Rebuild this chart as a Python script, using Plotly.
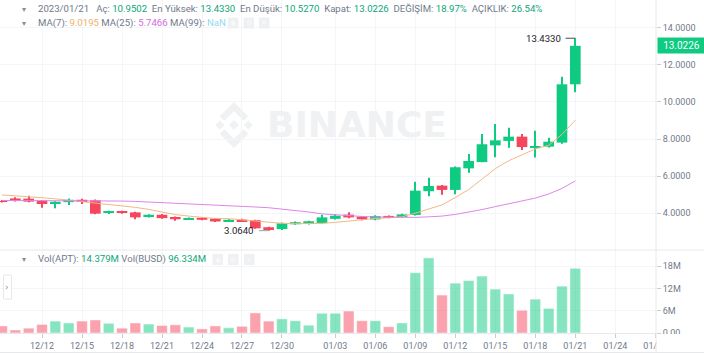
import plotly.graph_objects as go
import pandas as pd

W, H = 704, 353

# ---------------- data ----------------
dates = list(pd.date_range("2022-12-09", "2023-01-21", freq="D"))

open_ = [4.66, 4.80, 4.79, 4.68, 4.50, 4.60, 4.73, 4.70, 4.02, 4.10,
         4.05, 3.80, 3.92, 3.80, 3.69, 3.76, 3.71, 3.56, 3.66, 3.63,
         3.25, 3.15, 3.41, 3.43, 3.47, 3.70, 3.93, 3.82, 3.67, 3.86,
         3.80, 3.91, 5.19, 5.49, 5.26, 6.42, 6.76, 7.66, 7.90, 8.13,
         7.56, 7.59, 7.81, 10.9502]
high = [4.72, 4.86, 4.95, 4.72, 4.65, 4.80, 4.78, 4.74, 4.14, 4.14,
        4.08, 3.95, 3.96, 3.83, 3.78, 3.79, 3.73, 3.68, 3.70, 3.65,
        3.28, 3.50, 3.56, 3.60, 3.92, 3.95, 4.05, 3.85, 3.90, 3.88,
        3.98, 5.70, 5.92, 5.52, 6.52, 7.20, 8.27, 8.81, 8.61, 8.27,
        8.45, 8.07, 11.36, 13.4330]
low = [4.58, 4.64, 4.60, 4.30, 4.27, 4.45, 4.50, 3.95, 3.96, 3.98,
       3.68, 3.78, 3.70, 3.60, 3.66, 3.62, 3.53, 3.54, 3.53, 3.17,
       3.0640, 3.10, 3.38, 3.40, 3.45, 3.66, 3.74, 3.63, 3.62, 3.73,
       3.76, 3.88, 4.92, 5.00, 5.02, 6.19, 6.75, 7.02, 7.53, 7.41,
       7.00, 7.55, 7.75, 10.5270]
close = [4.62, 4.68, 4.63, 4.50, 4.62, 4.73, 4.63, 3.98, 4.10, 4.02,
         3.78, 3.92, 3.74, 3.68, 3.74, 3.65, 3.56, 3.65, 3.56, 3.19,
         3.15, 3.46, 3.52, 3.57, 3.78, 3.87, 3.78, 3.68, 3.85, 3.76,
         3.94, 5.22, 5.47, 5.26, 6.48, 6.82, 7.72, 7.93, 8.13, 7.57,
         7.62, 7.86, 10.95, 13.0226]
volume_m = [1.9, 0.8, 1.3, 2.3, 3.2, 2.7, 3.2, 3.5, 2.6, 1.3,
            2.7, 2.4, 2.0, 2.2, 1.6, 1.1, 1.9, 1.4, 1.8, 5.4,
            3.2, 3.8, 3.3, 2.1, 5.3, 5.3, 5.9, 3.3, 3.3, 1.7,
            2.7, 16.2, 20.2, 10.2, 13.4, 14.1, 15.3, 11.8, 10.5, 6.1,
            9.1, 6.6, 12.6, 17.4]
ma7 = [4.99, 4.95, 4.90, 4.84, 4.78, 4.71, 4.63, 4.56, 4.49, 4.42,
       4.32, 4.21, 4.07, 3.93, 3.85, 3.79, 3.72, 3.71, 3.65, 3.58,
       3.50, 3.46, 3.44, 3.44, 3.46, 3.51, 3.59, 3.67, 3.72, 3.76,
       3.81, 4.01, 4.24, 4.45, 4.85, 5.28, 5.84, 6.41, 6.83, 7.13,
       7.47, 7.66, 8.25, 9.0195]
ma25 = [4.69, 4.69, 4.69, 4.69, 4.69, 4.68, 4.68, 4.67, 4.67, 4.66,
        4.64, 4.61, 4.59, 4.56, 4.52, 4.48, 4.45, 4.41, 4.38, 4.34,
        4.30, 4.23, 4.15, 4.07, 3.97, 3.91, 3.87, 3.83, 3.80, 3.78,
        3.77, 3.78, 3.81, 3.85, 3.94, 4.05, 4.20, 4.36, 4.50, 4.66,
        4.82, 5.04, 5.34, 5.7466]

tick_dates = ["2022-12-12", "2022-12-15", "2022-12-18", "2022-12-21", "2022-12-24",
              "2022-12-27", "2022-12-30", "2023-01-03", "2023-01-06", "2023-01-09",
              "2023-01-12", "2023-01-15", "2023-01-18", "2023-01-21", "2023-01-24",
              "2023-01-27"]
tick_labels = ["12/12", "12/15", "12/18", "12/21", "12/24", "12/27", "12/30", "01/03",
               "01/06", "01/09", "01/12", "01/15", "01/18", "01/21", "01/24", "01/27"]
price_ticks = [4, 6, 8, 10, 12, 14]
vol_ticks = [0, 6, 12, 18]
vol_tick_labels = ["0.00", "6M", "12M", "18M"]

# ---------------- style ----------------
GREEN = "#0ecb81"
RED = "#f6465d"
GREEN_V = "rgba(14,203,129,0.5)"
RED_V = "rgba(246,70,93,0.5)"
ORANGE = "#f2b984"
PINK = "#de86e8"
GRAY = "#707a8a"
TXT_GREEN = "#0ca678"
GRID = "#f4f5f7"
LINEC = "#e6e8ea"
FONT = "Roboto"

PLOT_W = 656
PX_PER_DAY = 13.333
PRICE_BOTTOM = 250
VOL_BOTTOM = 333
DAY_MS = 86400000


def px(x):
    return x / W


def py(y):
    return 1 - y / H


x_start = dates[0] - pd.Timedelta(days=2.0 / PX_PER_DAY)
x_end = x_start + pd.Timedelta(days=PLOT_W / PX_PER_DAY)

up = [c >= o for o, c in zip(open_, close)]
candle_colors = [GREEN if u else RED for u in up]
vol_colors = [GREEN_V if u else RED_V for u in up]

fig = go.Figure()

# wicks
fig.add_trace(go.Bar(
    x=dates, base=low, y=[h - l for h, l in zip(high, low)],
    width=1.0 / PX_PER_DAY * DAY_MS, xaxis="x", yaxis="y",
    marker=dict(color=candle_colors, line=dict(width=0)),
    showlegend=False, hoverinfo="skip"))
# bodies
fig.add_trace(go.Bar(
    x=dates, base=[min(o, c) for o, c in zip(open_, close)],
    y=[max(abs(c - o), 0.03) for o, c in zip(open_, close)],
    width=0.8 * DAY_MS, xaxis="x", yaxis="y",
    marker=dict(color=candle_colors, line=dict(width=0)),
    showlegend=False, hoverinfo="skip"))
fig.add_trace(go.Scatter(x=dates, y=ma7, mode="lines", line=dict(color=ORANGE, width=1),
                         xaxis="x", yaxis="y", showlegend=False, hoverinfo="skip"))
fig.add_trace(go.Scatter(x=dates, y=ma25, mode="lines", line=dict(color=PINK, width=1),
                         xaxis="x", yaxis="y", showlegend=False, hoverinfo="skip"))

fig.add_trace(go.Bar(
    x=dates, y=volume_m, xaxis="x2", yaxis="y2",
    marker=dict(color=vol_colors, line=dict(color="rgba(255,255,255,0.45)", width=1)),
    width=0.8 * DAY_MS, showlegend=False, hoverinfo="skip"))

tickfont = dict(family=FONT, size=9, color=GRAY)

fig.update_layout(
    width=W, height=H, margin=dict(l=0, r=0, t=0, b=0, autoexpand=False),
    paper_bgcolor="white", plot_bgcolor="white",
    barmode="overlay",
    xaxis=dict(domain=[0, px(PLOT_W)], anchor="y", type="date", automargin=False,
               range=[x_start, x_end], showticklabels=False,
               tickvals=tick_dates, showgrid=True, gridcolor=GRID, gridwidth=1,
               zeroline=False, showline=False, fixedrange=True),
    xaxis2=dict(domain=[0, px(PLOT_W)], anchor="y2", type="date", matches="x",
                automargin=False, ticklabeloverflow="allow",
                range=[x_start, x_end], tickvals=tick_dates, ticktext=tick_labels,
                ticks="outside", ticklen=4, tickcolor="#c9ccd1", tickfont=tickfont,
                showgrid=True, gridcolor=GRID, zeroline=False,
                showline=True, linecolor=LINEC, linewidth=1),
    yaxis=dict(domain=[py(PRICE_BOTTOM), 1], anchor="x", side="right", automargin=False,
               range=[4 - (PRICE_BOTTOM - 213.3) / 18.56, 4 + 213.3 / 18.56],
               tickvals=price_ticks, tickformat=".4f",
               ticks="outside", ticklen=4, tickcolor="#c9ccd1", tickfont=tickfont,
               showgrid=True, gridcolor=GRID, zeroline=False, showline=False),
    yaxis2=dict(domain=[py(VOL_BOTTOM), py(PRICE_BOTTOM)], anchor="x2", side="right",
                automargin=False,
                range=[0, (VOL_BOTTOM - PRICE_BOTTOM) / 3.72],
                tickvals=vol_ticks, ticktext=vol_tick_labels,
                ticks="outside", ticklen=4, tickcolor="#c9ccd1", tickfont=tickfont,
                showgrid=True, gridcolor=GRID, zeroline=False, showline=False),
)

shapes = []
# Binance watermark logo (diamonds and chevrons)
cx, cy, s = 234, 125, 23
WM = "#f0f1f3"


def poly(points):
    d = "M " + " L ".join(f"{px(cx + s * a):.5f},{py(cy + s * b):.5f}" for a, b in points) + " Z"
    return dict(type="path", xref="paper", yref="paper", path=d, fillcolor=WM,
                line=dict(width=0), layer="below")


shapes.append(poly([(0, -0.22), (0.22, 0), (0, 0.22), (-0.22, 0)]))
shapes.append(poly([(-0.62, -0.2), (-0.42, 0), (-0.62, 0.2), (-0.82, 0)]))
shapes.append(poly([(0.62, -0.2), (0.82, 0), (0.62, 0.2), (0.42, 0)]))
shapes.append(poly([(0, -1), (0.62, -0.38), (0.42, -0.18), (0, -0.6), (-0.42, -0.18), (-0.62, -0.38)]))
shapes.append(poly([(0, 1), (0.62, 0.38), (0.42, 0.18), (0, 0.6), (-0.42, 0.18), (-0.62, 0.38)]))

# pane separators and borders
shapes.append(dict(type="line", xref="paper", yref="paper", x0=0, x1=1,
                   y0=py(PRICE_BOTTOM), y1=py(PRICE_BOTTOM), line=dict(color=LINEC, width=1)))
shapes.append(dict(type="rect", xref="paper", yref="paper", x0=px(PLOT_W + 0.5), x1=1,
                   y0=0, y1=py(VOL_BOTTOM + 1), fillcolor="white", line=dict(width=0), layer="above"))
shapes.append(dict(type="line", xref="paper", yref="paper", x0=px(PLOT_W), x1=px(PLOT_W),
                   y0=0, y1=1, line=dict(color=LINEC, width=1), layer="above"))
shapes.append(dict(type="line", xref="paper", yref="paper", x0=0, x1=1,
                   y0=py(352.5), y1=py(352.5), line=dict(color=LINEC, width=1), layer="above"))
# small side button
shapes.append(dict(type="rect", xref="paper", yref="paper", x0=px(3.5), x1=px(11.5),
                   y0=py(299), y1=py(275), fillcolor="white", line=dict(color="#e6e8ea", width=1)))

# icon boxes
for x0, yc in [(228, 23), (243.5, 23), (259, 23), (212.5, 259.5), (228, 259.5), (244, 259.5)]:
    shapes.append(dict(type="rect", xref="paper", yref="paper", x0=px(x0), x1=px(x0 + 10.5),
                       y0=py(yc + 5.5), y1=py(yc - 5.5), fillcolor="#eef0f2", line=dict(width=0)))

# high / low markers
i_hi = high.index(max(high))
i_lo = low.index(min(low))
day = pd.Timedelta(days=1)
shapes.append(dict(type="line", xref="x", yref="y", x0=dates[i_hi] - 0.73 * day, x1=dates[i_hi],
                   y0=high[i_hi], y1=high[i_hi], line=dict(color="#474d57", width=1)))
shapes.append(dict(type="line", xref="x", yref="y", x0=dates[i_lo] - 0.73 * day, x1=dates[i_lo],
                   y0=low[i_lo], y1=low[i_lo], line=dict(color="#9aa0a8", width=1)))

fig.update_layout(shapes=shapes)

NB = "&nbsp;"


def sp(text, color):
    return f"<span style='color:{color}'>{text}</span>"


line1 = (sp(f"2023/01/21{NB}{NB}{NB}Aç:{NB}", GRAY) + sp("10.9502", TXT_GREEN) +
         sp(f"{NB}{NB}En Yüksek:{NB}", GRAY) + sp("13.4330", TXT_GREEN) +
         sp(f"{NB}{NB}En Düşük:{NB}", GRAY) + sp("10.5270", TXT_GREEN) +
         sp(f"{NB}{NB}Kapat:{NB}", GRAY) + sp("13.0226", TXT_GREEN) +
         sp(f"{NB}{NB}DEĞİŞİM:{NB}", GRAY) + sp("18.97%", TXT_GREEN) +
         sp(f"{NB}{NB}AÇIKLIK:{NB}", GRAY) + sp("26.54%", TXT_GREEN))
line2 = (sp(f"MA(7):{NB}", GRAY) + sp(f"{ma7[-1]:.4f}", "#eeb16a") +
         sp(f"{NB}MA(25):{NB}", GRAY) + sp(f"{ma25[-1]:.4f}", "#d46bdc") +
         sp(f"{NB}MA(99):{NB}", GRAY) + sp("NaN", "#8fdcec"))
line3 = (sp(f"Vol(APT):{NB}", GRAY) + sp("14.379M", TXT_GREEN) +
         sp(f"{NB}Vol(BUSD){NB}", GRAY) + sp("96.334M", TXT_GREEN))

hdr_font = dict(family=FONT, size=9.6, color=GRAY)
ann = []
for txt, yc in [(line1, 8.5), (line2, 23), (line3, 259)]:
    ann.append(dict(xref="paper", yref="paper", x=px(36), y=py(yc), xanchor="left",
                    yanchor="middle", text=txt, showarrow=False, font=hdr_font))
    ann.append(dict(xref="paper", yref="paper", x=px(24.5), y=py(yc + 0.5), xanchor="center",
                    yanchor="middle", text="▾", showarrow=False,
                    font=dict(family="DejaVu Sans", size=8, color="#848e9c")))

for xc, yc, g in [(233.2, 23, "◉"), (248.7, 23, "⚙"), (264.2, 23, "✕"),
                  (217.7, 259.5, "◉"), (233.2, 259.5, "⚙"), (249.2, 259.5, "✕")]:
    ann.append(dict(xref="paper", yref="paper", x=px(xc), y=py(yc), xanchor="center",
                    yanchor="middle", text=g, showarrow=False,
                    font=dict(family="DejaVu Sans", size=7, color="#fafafa")))

ann.append(dict(xref="paper", yref="paper", x=px(7.5), y=py(287), xanchor="center",
                yanchor="middle", text="›", showarrow=False,
                font=dict(family="DejaVu Sans", size=9, color="#848e9c")))

# watermark text
ann.append(dict(xref="paper", yref="paper", x=px(357), y=py(125), xanchor="center",
                yanchor="middle", text="<b>BINANCE</b>", showarrow=False,
                font=dict(family="DejaVu Sans", size=36, color=WM)))

# last price tag
ann.append(dict(xref="paper", yref="y", x=px(PLOT_W + 0.5), y=close[-1], xanchor="left",
                yanchor="middle", text=f"{close[-1]:.4f}", showarrow=False,
                bgcolor=GREEN, width=47, height=15, borderpad=0, align="center",
                font=dict(family=FONT, size=10, color="white")))

# high / low labels
ann.append(dict(xref="x", yref="y", x=dates[i_hi] - 0.92 * day, y=high[i_hi], xanchor="right",
                yanchor="middle", text=f"{high[i_hi]:.4f}", showarrow=False,
                font=dict(family=FONT, size=9.6, color="#1e2329")))
ann.append(dict(xref="x", yref="y", x=dates[i_lo] - 0.92 * day, y=low[i_lo], xanchor="right",
                yanchor="middle", text=f"{low[i_lo]:.4f}", showarrow=False,
                font=dict(family=FONT, size=9.6, color="#1e2329")))

fig.update_layout(annotations=ann)

fig.write_html("out.html")
